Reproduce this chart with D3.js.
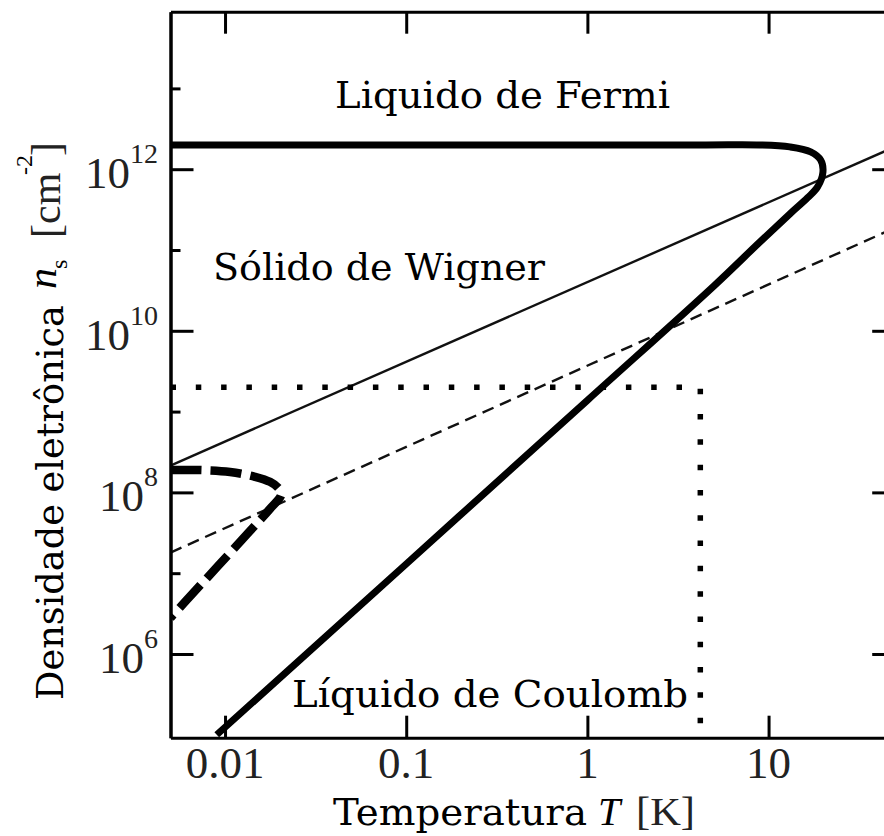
<!DOCTYPE html>
<html>
<head>
<meta charset="utf-8">
<script src="https://cdn.jsdelivr.net/npm/d3@7"></script>
<style>
  body { margin: 0; background: #fff; }
  svg { display: block; }
</style>
</head>
<body>
<svg id="chart" width="884" height="836"></svg>
<script>
// Phase diagram of a 2D electron system: electron density vs temperature (log-log)

const tempDomain = [0.005, 50];          // K
const densDomain = [9.2e4, 8.9e13];      // cm^-2

const xMajorTicks = [0.01, 0.1, 1, 10];
const xTickLabels = ["0.01", "0.1", "1", "10"];
const yMajorTicks = [1e6, 1e8, 1e10, 1e12];
const yTickExponents = ["6", "8", "10", "12"];
const yMinorTicks = [1e7, 1e9, 1e11, 1e13];

// Melting boundary of the Wigner solid (thick solid curve)
const meltT = [0.005, 4.18, 8.97, 13.12, 17.07, 19.39, 19.96, 18.64, 16.41, 13.12, 8.97, 5, 1, 0.1, 0.009];
const meltN = [2.0e12, 2.0e12, 2.0e12, 1.89e12, 1.64e12, 1.30e12, 9.26e11, 6.04e11, 4.42e11, 2.8e11, 1.26e11, 3.6e10, 1.38e9, 1.3e7, 1.0e5];

// Upper straight boundary (thin solid)
const upperT = [0.005, 50];
const upperN = [2.15e8, 1.9e12];

// Lower straight boundary (thin dashed)
const lowerT = [0.005, 50];
const lowerN = [1.8e7, 1.89e11];

// Low-density re-entrant boundary (thick dashed)
const reentT = [0.005, 0.00728, 0.01066, 0.01464, 0.0177, 0.01986, 0.0204, 0.0177, 0.01374, 0.00915, 0.00601, 0.005];
const reentN = [1.89e8, 1.89e8, 1.79e8, 1.56e8, 1.35e8, 1.11e8, 9.3e7, 6.25e7, 3.34e7, 1.23e7, 4.41e6, 2.8e6];

// Experimentally accessible window (dotted corner)
const windowT = 4.2;
const windowN = 2e9;

// Region names
const regionNames = ["Liquido de Fermi", "Sólido de Wigner", "Líquido de Coulomb"];

const svg = d3.select("#chart");
svg.append("rect").attr("width", 884).attr("height", 836).attr("fill", "#fff");

const plotL = 170.5, plotR = 895.2, plotT = 11.7, plotB = 737.7;

const x = d3.scaleLog().domain(tempDomain).range([plotL, plotR]);
const y = d3.scaleLog().domain(densDomain).range([plotB, plotT]);

svg.append("clipPath").attr("id", "plot-clip")
  .append("rect")
  .attr("x", plotL).attr("y", plotT)
  .attr("width", plotR - plotL).attr("height", plotB - plotT);

const plot = svg.append("g").attr("clip-path", "url(#plot-clip)");

const zip = (ts, ns) => ts.map((t, i) => ({ T: t, n: ns[i] }));

const smooth = d3.line()
  .x(d => x(d.T)).y(d => y(d.n))
  .curve(d3.curveCatmullRom.alpha(0.5));
const straight = d3.line().x(d => x(d.T)).y(d => y(d.n));

// Thin solid
plot.append("path")
  .attr("d", straight(zip(upperT, upperN)))
  .attr("fill", "none").attr("stroke", "#111").attr("stroke-width", 2.4);

// Thin dashed
plot.append("path")
  .attr("d", straight(zip(lowerT, lowerN)))
  .attr("fill", "none").attr("stroke", "#111").attr("stroke-width", 2.4)
  .attr("stroke-dasharray", "12,7");

// Thick melting curve
plot.append("path")
  .attr("d", smooth(zip(meltT, meltN)))
  .attr("fill", "none").attr("stroke", "#000").attr("stroke-width", 7)
  .attr("stroke-linejoin", "round");

// Thick dashed re-entrant curve
plot.append("path")
  .attr("d", smooth(zip(reentT, reentN)))
  .attr("fill", "none").attr("stroke", "#000").attr("stroke-width", 8.5)
  .attr("stroke-dasharray", "31,9");

// Dotted window
plot.append("path")
  .attr("d", straight([
    { T: tempDomain[0], n: windowN },
    { T: windowT, n: windowN },
    { T: windowT, n: densDomain[0] }
  ]))
  .attr("fill", "none").attr("stroke", "#000").attr("stroke-width", 5.5)
  .attr("stroke-dasharray", "5.5,19.8");

// Frame and ticks
function styleAxis(g) {
  g.select(".domain").attr("stroke", "#000").attr("stroke-width", 3);
  g.selectAll(".tick line").attr("stroke", "#000").attr("stroke-width", 3);
  g.selectAll(".tick text").remove();
}
svg.append("g").attr("transform", `translate(0,${plotB})`)
  .call(d3.axisBottom(x).tickValues(xMajorTicks).tickSizeInner(-22).tickSizeOuter(0))
  .call(styleAxis);
svg.append("g").attr("transform", `translate(0,${plotT})`)
  .call(d3.axisTop(x).tickValues(xMajorTicks).tickSizeInner(-22).tickSizeOuter(0))
  .call(styleAxis);
svg.append("g").attr("transform", `translate(${plotL},0)`)
  .call(d3.axisLeft(y).tickValues(yMajorTicks).tickSizeInner(-23).tickSizeOuter(0))
  .call(styleAxis);
svg.append("g").attr("transform", `translate(${plotL},0)`)
  .call(d3.axisLeft(y).tickValues(yMinorTicks).tickSizeInner(-10).tickSizeOuter(0))
  .call(styleAxis);
svg.append("g").attr("transform", `translate(${plotR},0)`)
  .call(d3.axisRight(y).tickValues(yMajorTicks).tickSizeInner(-23).tickSizeOuter(0))
  .call(styleAxis);
svg.append("g").attr("transform", `translate(${plotR},0)`)
  .call(d3.axisRight(y).tickValues(yMinorTicks).tickSizeInner(-10).tickSizeOuter(0))
  .call(styleAxis);

// Tick labels
const tickFont = "'Liberation Serif', 'Times New Roman', serif";
svg.append("g").selectAll("text").data(xMajorTicks).join("text")
  .attr("x", d => x(d)).attr("y", 778)
  .attr("text-anchor", "middle")
  .attr("font-family", tickFont).attr("font-size", 45).attr("fill", "#222")
  .text((d, i) => xTickLabels[i]);

const yl = svg.append("g").selectAll("text").data(yMajorTicks).join("text")
  .attr("x", 158).attr("y", d => y(d) + 19)
  .attr("text-anchor", "end")
  .attr("font-family", tickFont).attr("fill", "#222");
yl.append("tspan").attr("font-size", 45).text("10");
yl.append("tspan").attr("font-size", 28).attr("dy", -25).text((d, i) => yTickExponents[i]);

// Region labels
const slab = "'DejaVu Serif', serif";
const labelPos = [
  { x: 335, y: 108, w: 335 },
  { x: 213, y: 280, w: 332 },
  { x: 292, y: 707, w: 396 }
];
svg.append("g").selectAll("text").data(regionNames).join("text")
  .attr("x", (d, i) => labelPos[i].x).attr("y", (d, i) => labelPos[i].y)
  .attr("textLength", (d, i) => labelPos[i].w)
  .attr("lengthAdjust", "spacingAndGlyphs")
  .attr("font-family", slab).attr("font-size", 38).attr("fill", "#000")
  .text(d => d);

// X axis title
const xt = svg.append("g");
xt.append("text").attr("x", 333).attr("y", 825)
  .attr("textLength", 254).attr("lengthAdjust", "spacingAndGlyphs")
  .attr("font-family", slab).attr("font-size", 38).text("Temperatura");
xt.append("text").attr("x", 598).attr("y", 825)
  .attr("font-family", tickFont).attr("font-style", "italic").attr("font-size", 40).text("T");
xt.append("text").attr("x", 636).attr("y", 825)
  .attr("textLength", 59).attr("lengthAdjust", "spacingAndGlyphs")
  .attr("font-family", tickFont).attr("font-size", 40).attr("fill", "#222").text("[K]");

// Y axis title (rotated)
const yt = svg.append("g").attr("transform", "rotate(-90)");
yt.append("text").attr("x", -700).attr("y", 63)
  .attr("textLength", 395).attr("lengthAdjust", "spacingAndGlyphs")
  .attr("font-family", slab).attr("font-size", 38).text("Densidade eletrônica");
yt.append("text").attr("x", -289).attr("y", 56)
  .attr("font-family", tickFont).attr("font-style", "italic").attr("font-size", 42).text("n");
yt.append("text").attr("x", -269).attr("y", 67)
  .attr("font-family", tickFont).attr("font-size", 24).text("s");
yt.append("text").attr("x", -238).attr("y", 60)
  .attr("font-family", tickFont).attr("font-size", 42).attr("fill", "#222").text("[cm");
yt.append("text").attr("x", -175).attr("y", 32)
  .attr("font-family", tickFont).attr("font-size", 24).text("-2");
yt.append("text").attr("x", -156).attr("y", 60)
  .attr("font-family", tickFont).attr("font-size", 42).attr("fill", "#222").text("]");
</script>
</body>
</html>
